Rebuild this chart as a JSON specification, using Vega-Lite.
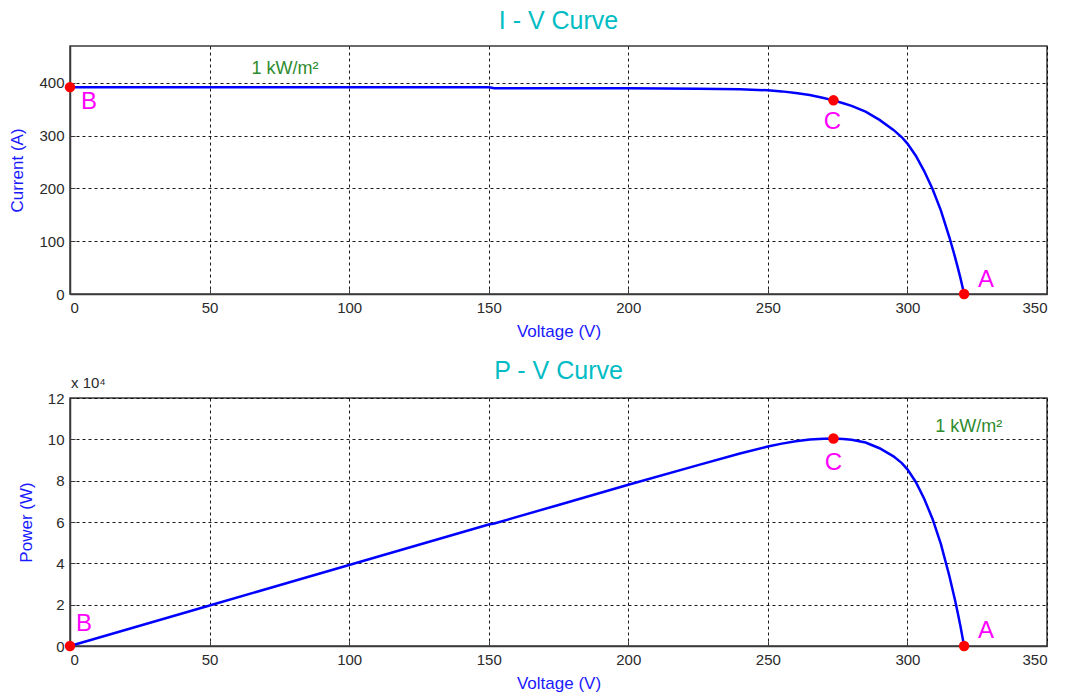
{
  "$schema": "https://vega.github.io/schema/vega-lite/v6.json",
  "background": "white",
  "padding": {"left": 8, "top": 8, "right": 5, "bottom": 2},
  "spacing": 18,
  "config": {
    "font": "Liberation Sans",
    "view": {"stroke": "#3a3a3a", "strokeWidth": 1.5},
    "axis": {
      "grid": true, "gridColor": "#000000", "gridDash": [3, 3], "gridOpacity": 0.9, "gridWidth": 1,
      "domainColor": "#3a3a3a", "domainWidth": 1.5,
      "tickColor": "#3a3a3a", "tickSize": -5, "tickWidth": 1,
      "labelColor": "#2a2a2a", "labelFontSize": 15, "labelPadding": 11,
      "titleColor": "#1a1aff", "titleFontSize": 17, "titleFontWeight": "normal"
    },
    "axisY": {"titlePadding": 12},
    "axisX": {"titlePadding": 8},
    "title": {"color": "#00bcc4", "fontSize": 25, "fontWeight": "normal", "offset": 12}
  },
  "datasets": {
    "curve": [
      {"V": 0, "I": 392, "P": 0},
      {"V": 25, "I": 392, "P": 9800},
      {"V": 50, "I": 392, "P": 19600},
      {"V": 75, "I": 392, "P": 29400},
      {"V": 100, "I": 392, "P": 39200},
      {"V": 125, "I": 392, "P": 49000},
      {"V": 150, "I": 392, "P": 58800},
      {"V": 152, "I": 390, "P": 59280},
      {"V": 175, "I": 390, "P": 68250},
      {"V": 200, "I": 390, "P": 78000},
      {"V": 225, "I": 389, "P": 87525},
      {"V": 240, "I": 388, "P": 93120},
      {"V": 250, "I": 386, "P": 96500},
      {"V": 255, "I": 384, "P": 97920},
      {"V": 260, "I": 381, "P": 99060},
      {"V": 265, "I": 377, "P": 99905},
      {"V": 270, "I": 371.5, "P": 100305},
      {"V": 273.5, "I": 367, "P": 100375},
      {"V": 277, "I": 361.5, "P": 100136},
      {"V": 280, "I": 356.5, "P": 99820},
      {"V": 285, "I": 345.5, "P": 98468},
      {"V": 290, "I": 330, "P": 95700},
      {"V": 295, "I": 311, "P": 91745},
      {"V": 298, "I": 297, "P": 88506},
      {"V": 300, "I": 285, "P": 85500},
      {"V": 303, "I": 262, "P": 79386},
      {"V": 306, "I": 233, "P": 71298},
      {"V": 309, "I": 199, "P": 61491},
      {"V": 312, "I": 158, "P": 49296},
      {"V": 315, "I": 108, "P": 34020},
      {"V": 317, "I": 71, "P": 22507},
      {"V": 318, "I": 51, "P": 16218},
      {"V": 319, "I": 30, "P": 9570},
      {"V": 320, "I": 7, "P": 2240},
      {"V": 320.3, "I": 0, "P": 0}
    ],
    "points": [
      {"label": "B", "V": 0, "I": 392, "P": 0},
      {"label": "C", "V": 273.5, "I": 367, "P": 100375},
      {"label": "A", "V": 320.3, "I": 0, "P": 0}
    ],
    "one": [{}]
  },
  "vconcat": [
    {
      "width": 977, "height": 248,
      "title": {"text": "I - V Curve"},
      "layer": [
        {
          "data": {"name": "curve"},
          "mark": {"type": "line", "color": "#0000ff", "strokeWidth": 2.5, "clip": false},
          "encoding": {
            "x": {"field": "V", "type": "quantitative", "scale": {"domain": [0, 350], "nice": false, "zero": false},
                  "axis": {"values": [0, 50, 100, 150, 200, 250, 300, 350], "title": "Voltage (V)"}},
            "y": {"field": "I", "type": "quantitative", "scale": {"domain": [0, 470], "nice": false},
                  "axis": {"values": [0, 100, 200, 300, 400], "title": "Current (A)"}}
          }
        },
        {
          "data": {"name": "points"},
          "mark": {"type": "point", "filled": true, "color": "#ff0000", "size": 110, "opacity": 1, "clip": false},
          "encoding": {"x": {"field": "V", "type": "quantitative"}, "y": {"field": "I", "type": "quantitative"}}
        },
        {
          "data": {"name": "points"},
          "transform": [{"filter": "datum.label == 'B'"}],
          "mark": {"type": "text", "color": "#ff00ff", "fontSize": 24, "dx": 19, "dy": 15, "align": "center", "baseline": "middle"},
          "encoding": {"x": {"field": "V", "type": "quantitative"}, "y": {"field": "I", "type": "quantitative"}, "text": {"field": "label"}}
        },
        {
          "data": {"name": "points"},
          "transform": [{"filter": "datum.label == 'C'"}],
          "mark": {"type": "text", "color": "#ff00ff", "fontSize": 24, "dx": -1, "dy": 22, "align": "center", "baseline": "middle"},
          "encoding": {"x": {"field": "V", "type": "quantitative"}, "y": {"field": "I", "type": "quantitative"}, "text": {"field": "label"}}
        },
        {
          "data": {"name": "points"},
          "transform": [{"filter": "datum.label == 'A'"}],
          "mark": {"type": "text", "color": "#ff00ff", "fontSize": 24, "dx": 22, "dy": -14, "align": "center", "baseline": "middle"},
          "encoding": {"x": {"field": "V", "type": "quantitative"}, "y": {"field": "I", "type": "quantitative"}, "text": {"field": "label"}}
        },
        {
          "data": {"name": "one"},
          "mark": {"type": "text", "color": "#2e8b2e", "fontSize": 18, "align": "center", "baseline": "middle"},
          "encoding": {"x": {"datum": 77}, "y": {"datum": 427}, "text": {"value": "1 kW/m²"}}
        }
      ]
    },
    {
      "width": 977, "height": 248,
      "title": {"text": "P - V Curve", "offset": -8},
      "layer": [
        {
          "data": {"name": "curve"},
          "mark": {"type": "line", "color": "#0000ff", "strokeWidth": 2.5, "clip": false},
          "encoding": {
            "x": {"field": "V", "type": "quantitative", "scale": {"domain": [0, 350], "nice": false, "zero": false},
                  "axis": {"values": [0, 50, 100, 150, 200, 250, 300, 350], "title": "Voltage (V)"}},
            "y": {"field": "P", "type": "quantitative", "scale": {"domain": [0, 120000], "nice": false},
                  "axis": {"values": [0, 20000, 40000, 60000, 80000, 100000, 120000], "labelExpr": "format(datum.value / 10000, 'd')", "title": "Power (W)"}}
          }
        },
        {
          "data": {"name": "points"},
          "mark": {"type": "point", "filled": true, "color": "#ff0000", "size": 110, "opacity": 1, "clip": false},
          "encoding": {"x": {"field": "V", "type": "quantitative"}, "y": {"field": "P", "type": "quantitative"}}
        },
        {
          "data": {"name": "points"},
          "transform": [{"filter": "datum.label == 'B'"}],
          "mark": {"type": "text", "color": "#ff00ff", "fontSize": 24, "dx": 14, "dy": -22, "align": "center", "baseline": "middle"},
          "encoding": {"x": {"field": "V", "type": "quantitative"}, "y": {"field": "P", "type": "quantitative"}, "text": {"field": "label"}}
        },
        {
          "data": {"name": "points"},
          "transform": [{"filter": "datum.label == 'C'"}],
          "mark": {"type": "text", "color": "#ff00ff", "fontSize": 24, "dx": 0, "dy": 24, "align": "center", "baseline": "middle"},
          "encoding": {"x": {"field": "V", "type": "quantitative"}, "y": {"field": "P", "type": "quantitative"}, "text": {"field": "label"}}
        },
        {
          "data": {"name": "points"},
          "transform": [{"filter": "datum.label == 'A'"}],
          "mark": {"type": "text", "color": "#ff00ff", "fontSize": 24, "dx": 22, "dy": -15, "align": "center", "baseline": "middle"},
          "encoding": {"x": {"field": "V", "type": "quantitative"}, "y": {"field": "P", "type": "quantitative"}, "text": {"field": "label"}}
        },
        {
          "data": {"name": "one"},
          "mark": {"type": "text", "color": "#2e8b2e", "fontSize": 18, "align": "center", "baseline": "middle"},
          "encoding": {"x": {"datum": 322}, "y": {"datum": 106000}, "text": {"value": "1 kW/m²"}}
        },
        {
          "data": {"name": "one"},
          "mark": {"type": "text", "color": "#2a2a2a", "fontSize": 15, "align": "left", "baseline": "middle", "dx": 1},
          "encoding": {"x": {"datum": 0}, "y": {"datum": 127200}, "text": {"value": "x 10⁴"}}
        }
      ]
    }
  ]
}
